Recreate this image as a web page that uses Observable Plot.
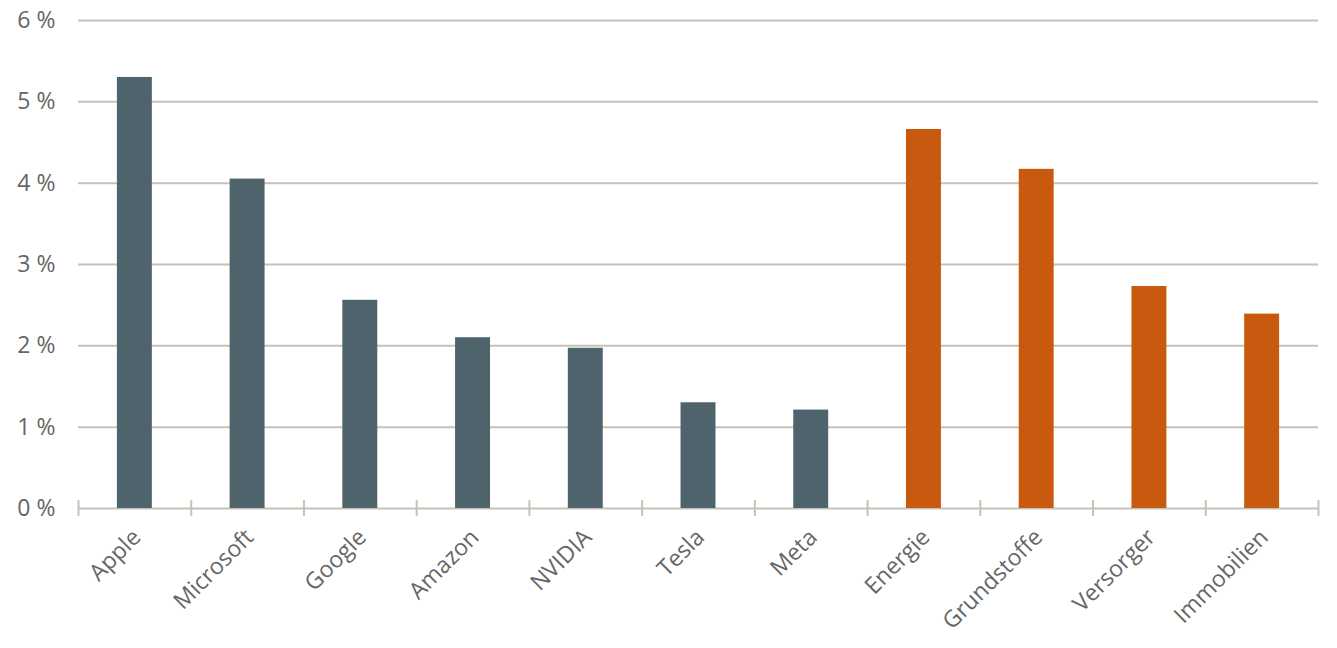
<!DOCTYPE html>
<html>
<head>
<meta charset="utf-8">
<script src="https://cdn.jsdelivr.net/npm/d3@7"></script>
<script src="https://cdn.jsdelivr.net/npm/@observablehq/plot@0.6"></script>
<style>
  html, body { margin: 0; padding: 0; background: #fff; }
  #chart { width: 1337px; height: 648px; }
</style>
</head>
<body>
<div id="chart"></div>
<script>
const categories = ["Apple", "Microsoft", "Google", "Amazon", "NVIDIA", "Tesla", "Meta", "Energie", "Grundstoffe", "Versorger", "Immobilien"];
const values = [5.30, 4.05, 2.56, 2.10, 1.97, 1.30, 1.21, 4.66, 4.17, 2.73, 2.39];
const groups = ["Magnificent", "Magnificent", "Magnificent", "Magnificent", "Magnificent", "Magnificent", "Magnificent", "Sektor", "Sektor", "Sektor", "Sektor"];
const yTicks = [0, 1, 2, 3, 4, 5, 6];

const data = categories.map((c, i) => ({category: c, value: values[i], group: groups[i]}));

const W = 1337, H = 648;
const mL = 78, mR = 19, mT = 20, mB = 140;
const step = (W - mL - mR) / categories.length;
const gridColor = "#c6c2b6";
const textColor = "#666666";
const font = "'Open Sans', sans-serif";

const chart = Plot.plot({
  width: W,
  height: H,
  marginLeft: mL,
  marginRight: mR,
  marginTop: mT,
  marginBottom: mB,
  style: {fontFamily: font, fontSize: "23px", color: textColor, background: "#fff"},
  x: {domain: categories, paddingInner: 0.69, paddingOuter: 0.345, round: false, label: null},
  y: {domain: [0, 6], label: null},
  color: {domain: ["Magnificent", "Sektor"], range: ["#4f636c", "#c85a0f"]},
  marks: [
    Plot.ruleY(yTicks, {stroke: gridColor, strokeWidth: 2}),
    Plot.barY(data, {x: "category", y: "value", fill: "group"}),
    Plot.axisY({ticks: yTicks, tickFormat: d => d + " %", tickSize: 0, tickPadding: 23, fontSize: 23, fill: textColor, label: null}),
    Plot.axisX({tickSize: 0, tickPadding: 25, tickRotate: -45, fontSize: 23, fill: textColor, label: null, dx: 2}),
    Plot.axisX({tickSize: 16, dy: -8, dx: -step / 2, tickFormat: () => "", stroke: gridColor, strokeWidth: 2, label: null}),
    Plot.axisX({ticks: [categories[categories.length - 1]], tickSize: 16, dy: -8, dx: step / 2, tickFormat: () => "", stroke: gridColor, strokeWidth: 2, label: null})
  ]
});

document.getElementById("chart").appendChild(chart);
</script>
</body>
</html>
